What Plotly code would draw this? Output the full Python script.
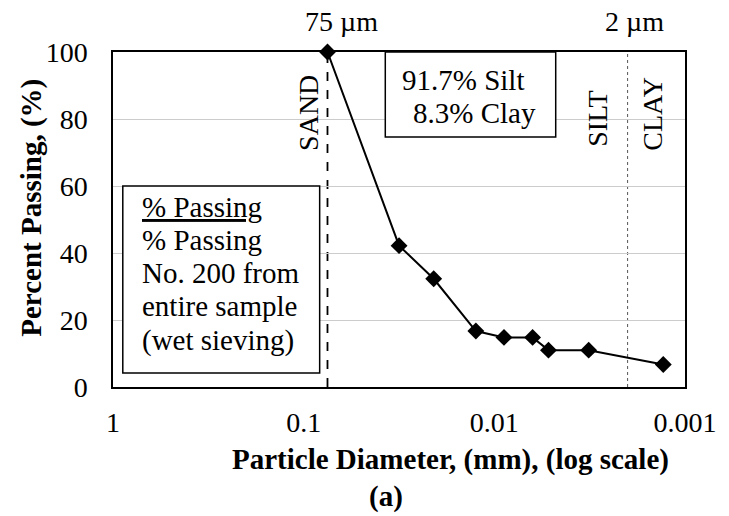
import plotly.graph_objects as go

# ---- data ----
diameter_mm = [0.075, 0.0316, 0.0208, 0.0125, 0.0089, 0.0063, 0.0052, 0.0032, 0.0013]
percent_passing = [100, 42.2, 32.3, 16.7, 14.8, 14.8, 11.0, 11.0, 6.7]
x_tick_vals = [1, 0.1, 0.01, 0.001]
x_tick_text = ["1", "0.1", "0.01", "0.001"]
y_tick_vals = [0, 20, 40, 60, 80, 100]
sand_silt_boundary = 0.075
silt_clay_boundary = 0.002

FONT = "Liberation Serif, Times New Roman, serif"
OFF = 8  # page body margin
W, H = 729 - OFF, 516 - OFF
# plot area in screenshot pixels
X0, X1, Y0, Y1 = 113, 697, 52, 387
L, T = X0 - OFF, Y0 - OFF
R, B = 729 - X1, 516 - Y1
PW, PH = X1 - X0, Y1 - Y0


def px(x):
    return (x - X0) / PW


def py(y):
    return (Y1 - y) / PH


fig = go.Figure()
fig.add_trace(go.Scatter(
    x=diameter_mm, y=percent_passing, mode="lines+markers",
    line=dict(color="black", width=2),
    marker=dict(symbol="diamond", size=13, color="black"),
    showlegend=False, cliponaxis=False,
))

shapes = [
    dict(type="line", xref="x", yref="y", x0=sand_silt_boundary, x1=sand_silt_boundary,
         y0=0, y1=100, line=dict(color="black", width=1.8, dash="dash"), layer="below"),
    dict(type="line", xref="x", yref="y", x0=silt_clay_boundary, x1=silt_clay_boundary,
         y0=0, y1=100, line=dict(color="#555555", width=1, dash="dot"), layer="below"),
    dict(type="rect", xref="paper", yref="paper", x0=px(391), x1=px(565), y0=py(137), y1=py(52),
         line=dict(color="black", width=1.5), fillcolor="white"),
    dict(type="rect", xref="paper", yref="paper", x0=px(123), x1=px(324), y0=py(373), y1=py(186),
         line=dict(color="black", width=1.5), fillcolor="white"),
]

ann = []


def add(text, x, y, size=29, bold=False, angle=0, xanchor="center", pad=1):
    t = f"<b>{text}</b>" if bold else text
    ann.append(dict(text=t, x=px(x), y=py(y), xref="paper", yref="paper", showarrow=False,
                    xanchor=xanchor, yanchor="middle", textangle=angle, borderpad=pad,
                    font=dict(family=FONT, size=size, color="black")))


add("75 µm", 346, 22, size=28, pad=0)
add("2 µm", 645, 22, size=28, pad=0)
add("SAND", 312, 113, size=28, angle=-90)
add("SILT", 607, 118, size=28, angle=-90)
add("CLAY", 663, 114, size=28, angle=-90)
add("91.7% Silt", 470, 80)
add("8.3% Clay", 482, 113)
add("<u>% Passing</u>", 141, 207, xanchor="left")
add("% Passing", 141, 240, xanchor="left")
add("No. 200 from", 141, 273, xanchor="left")
add("entire sample", 141, 306, xanchor="left")
add("(wet sieving)", 141, 340, xanchor="left")
add("Particle Diameter, (mm), (log scale)", 458, 459, size=29, bold=True)
add("(a)", 392, 496, size=29, bold=True)
add("Percent Passing, (%)", 29, 208, size=29, bold=True, angle=-90)

fig.update_layout(
    width=W, height=H,
    margin=dict(l=L, r=R, t=T, b=B, pad=0),
    paper_bgcolor="white", plot_bgcolor="white",
    font=dict(family=FONT, size=28, color="black"),
    shapes=shapes, annotations=ann,
    xaxis=dict(type="log", range=[0, -3], tickvals=x_tick_vals, ticktext=x_tick_text,
               showgrid=False, zeroline=False, showline=True, mirror=True,
               linecolor="black", linewidth=1.5, ticks="", ticklabelstandoff=10,
               tickfont=dict(family=FONT, size=28)),
    yaxis=dict(range=[0, 100], tickvals=y_tick_vals, showgrid=True, gridcolor="#cccccc",
               gridwidth=1, zeroline=False, showline=True, mirror=True,
               linecolor="black", linewidth=1.5, ticks="", ticklabelstandoff=18,
               tickfont=dict(family=FONT, size=28)),
)

fig.write_html("out.html")
